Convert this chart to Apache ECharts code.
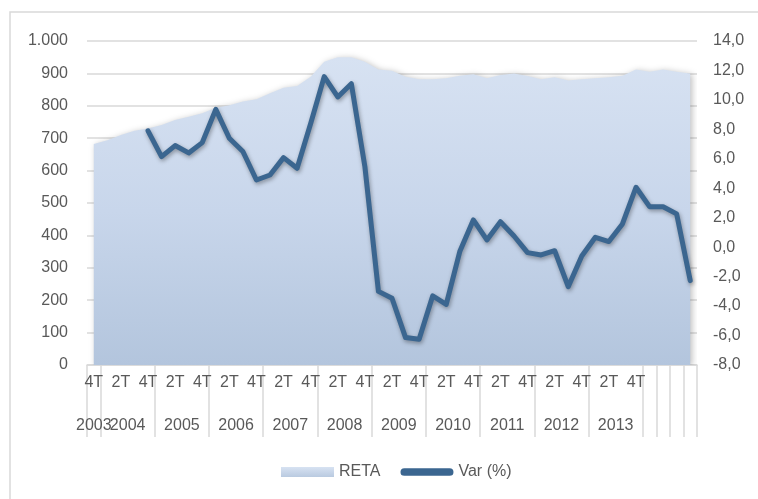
<!doctype html>
<html>
	<head>
		<meta charset="utf-8">
		<title></title>
		<script src="https://cdn.jsdelivr.net/npm/echarts@6/dist/echarts.min.js"></script>
		<style>
			html,body {
				margin: 0;
				width: 100%;
				height: 100%;
				background-color: #fff;
			}
			#container {
				width: 758px;
				height: 499px;
			}
		</style>
	</head>
	<body>
		<div id="container"></div>
		<script type="text/javascript">
			// quarters from 4T 2003, four empty slots after 2013
			var quarters = ['4T',
				'1T', '2T', '3T', '4T', '1T', '2T', '3T', '4T', '1T', '2T', '3T', '4T',
				'1T', '2T', '3T', '4T', '1T', '2T', '3T', '4T', '1T', '2T', '3T', '4T',
				'1T', '2T', '3T', '4T', '1T', '2T', '3T', '4T', '1T', '2T', '3T', '4T',
				'1T', '2T', '3T', '4T',
				'', '', '', ''];
			var years = ['2003', '2004', '2005', '2006', '2007', '2008', '2009', '2010', '2011', '2012', '2013'];
			var yearLength = [1, 4, 4, 4, 4, 4, 4, 4, 4, 4, 4, 1, 1, 1, 1];

			var reta = [682, 694, 710, 723, 730, 741, 756, 766, 777, 794, 802, 813, 820,
				839, 856, 861, 890, 936, 950, 950, 936, 912, 908, 890, 882, 882, 885, 893,
				897, 885, 895, 900, 892, 882, 888, 878, 882, 885, 888, 893, 912, 905, 912,
				905, 900];
			var variacion = ['-', '-', '-', '-', 7.9, 6.15, 6.9, 6.4, 7.1, 9.36, 7.4, 6.5, 4.56,
				4.9, 6.08, 5.36, 8.4, 11.58, 10.2, 11.1, 5.47, -3.0, -3.47, -6.14, -6.25, -3.31,
				-3.88, -0.3, 1.85, 0.49, 1.73, 0.76, -0.37, -0.53, -0.24, -2.68, -0.6, 0.67,
				0.38, 1.58, 4.07, 2.75, 2.75, 2.26, -2.27];

			// divider positions and year label centres on a 0..45 scale
			var bounds = [0];
			var centers = [];
			for (var i = 0; i < yearLength.length; i++) {
				var a = bounds[bounds.length - 1];
				bounds.push(a + yearLength[i]);
				if (i < years.length) centers.push(a + yearLength[i] / 2);
			}

			var txt = '#595959';
			var font = 'Liberation Sans';
			var myChart = echarts.init(document.getElementById('container'));

			// year label axis (value scale 0..45 over the same grid)
			function yearAxis(values) {
				return {
					type: 'value',
					position: 'bottom',
					min: 0,
					max: 45,
					axisLine: { show: false },
					axisTick: { show: false },
					axisLabel: {
						customValues: values,
						hideOverlap: false,
						showMinLabel: true,
						showMaxLabel: true,
						color: txt,
						fontSize: 16,
						margin: 53,
						formatter: function (v) {
							var k = centers.indexOf(v);
							return k >= 0 ? years[k] : '';
						}
					},
					splitLine: { show: false }
				};
			}

			var option = {
				animation: false,
				textStyle: { fontFamily: font },
				grid: {
					left: 87,
					right: 61,
					top: 41,
					bottom: 134
				},
				graphic: [{
					type: 'polyline',
					shape: { points: [[10, 499], [10, 12], [758, 12]] },
					style: { stroke: '#d9d9d9', lineWidth: 1.5, fill: null }
				}],
				legend: {
					bottom: 14,
					left: 276,
					itemGap: 20,
					itemWidth: 53,
					itemHeight: 10,
					textStyle: { color: txt, fontSize: 16, fontFamily: font },
					data: [{
						name: 'RETA',
						icon: 'rect',
						itemStyle: {
							color: new echarts.graphic.LinearGradient(0, 0, 0, 1, [
								{ offset: 0, color: '#d7e2f2' },
								{ offset: 1, color: '#b9cae0' }
							])
						}
					}, {
						name: 'Var (%)',
						icon: 'path://M4,0 L51,0 A4,4 0 0 1 51,8 L4,8 A4,4 0 0 1 4,0 Z',
						itemStyle: { color: '#3b6690' }
					}]
				},
				xAxis: [{
					type: 'category',
					data: quarters,
					boundaryGap: true,
					axisLine: { lineStyle: { color: '#d9d9d9', width: 1.5 } },
					axisTick: {
						show: true,
						length: 72,
						interval: function (idx) {
							return bounds.indexOf(idx) >= 0;
						},
						lineStyle: { color: '#d9d9d9', width: 1.5 }
					},
					axisLabel: {
						interval: 1,
						color: txt,
						fontSize: 16,
						margin: 10
					},
					splitLine: { show: false }
				},
				yearAxis(centers.slice(0, 1)),
				yearAxis(centers.slice(1))],
				yAxis: [{
					type: 'value',
					min: 0,
					max: 1000,
					interval: 100,
					axisLine: { show: false },
					axisTick: { show: false },
					axisLabel: {
						color: txt,
						fontSize: 16,
						margin: 19,
						formatter: function (v) {
							return v >= 1000 ? (v / 1000) + '.' + String(v % 1000).padStart(3, '0') : String(v);
						}
					},
					splitLine: { lineStyle: { color: '#d9d9d9', width: 1.5 } }
				}, {
					type: 'value',
					min: -8,
					max: 14,
					interval: 2,
					axisLine: { show: false },
					axisTick: { show: false },
					axisLabel: {
						color: txt,
						fontSize: 16,
						margin: 16,
						formatter: function (v) {
							return v.toFixed(1).replace('.', ',');
						}
					},
					splitLine: { show: false }
				}],
				series: [{
					name: 'RETA',
					type: 'line',
					xAxisIndex: 0,
					yAxisIndex: 0,
					symbol: 'none',
					itemStyle: { color: '#c9d7ec' },
					lineStyle: { width: 0 },
					areaStyle: {
						color: new echarts.graphic.LinearGradient(0, 0, 0, 1, [
							{ offset: 0, color: '#d7e2f2' },
							{ offset: 0.5, color: '#c8d6eb' },
							{ offset: 1, color: '#b3c5dd' }
						]),
						opacity: 1,
						shadowColor: 'rgba(0,0,0,0.25)',
						shadowBlur: 6,
						shadowOffsetX: 2,
						shadowOffsetY: 1
					},
					z: 1,
					data: reta
				}, {
					name: 'Var (%)',
					type: 'line',
					xAxisIndex: 0,
					yAxisIndex: 1,
					symbol: 'none',
					itemStyle: { color: '#3b6690' },
					lineStyle: {
						color: '#3b6690',
						width: 5,
						cap: 'round',
						join: 'round',
						shadowColor: 'rgba(0,0,0,0.35)',
						shadowBlur: 4,
						shadowOffsetX: 1,
						shadowOffsetY: 2
					},
					z: 3,
					data: variacion
				}]
			};

			myChart.setOption(option);
		</script>
	</body>
</html>
